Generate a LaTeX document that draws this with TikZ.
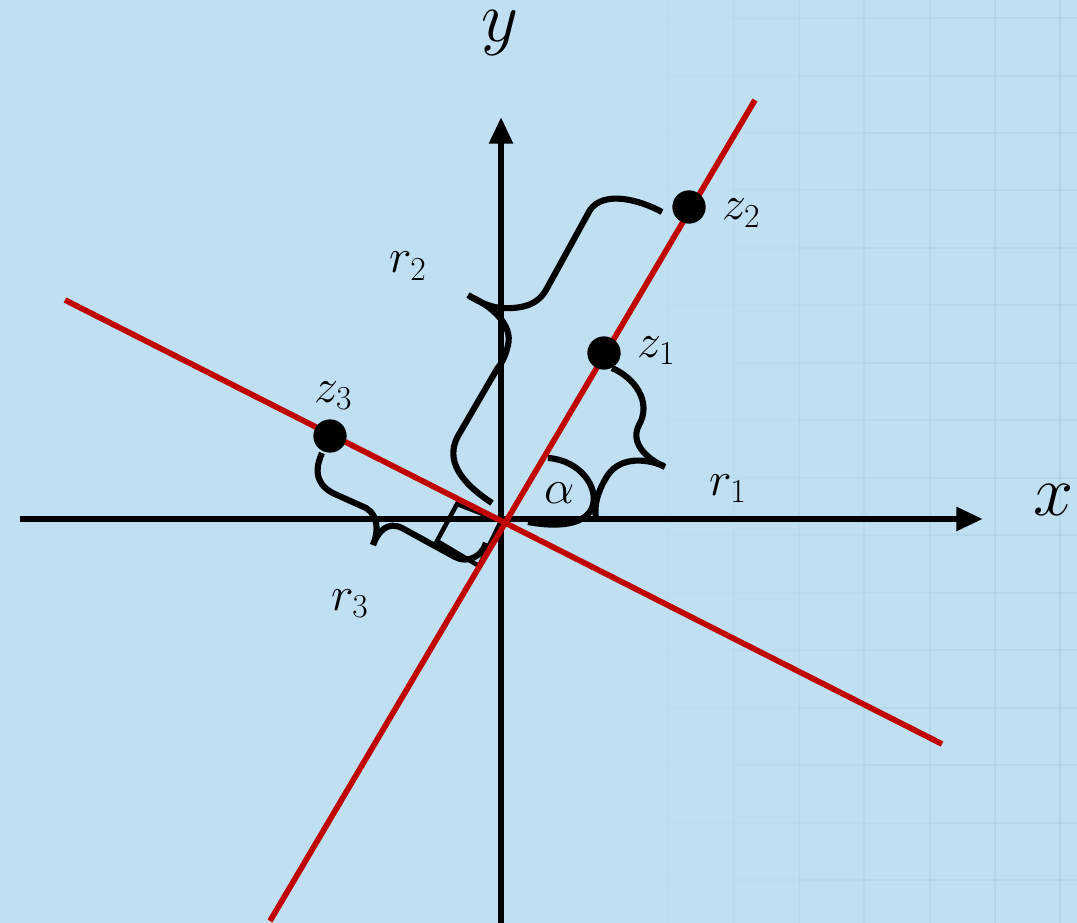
\RequirePackage{fix-cm}
\documentclass[tikz,border=0pt]{standalone}
\usetikzlibrary{arrows.meta}
\definecolor{bg}{RGB}{192,224,242}
\definecolor{gridc}{RGB}{165,203,228}
\definecolor{redl}{RGB}{192,0,0}
\tikzset{
  axis/.style={line width=4.8pt, black},
  redline/.style={line width=4.3pt, redl},
  bracepath/.style={line width=4.6pt, black, line join=round},
  ptdot/.style={circle, fill=black, inner sep=0pt, minimum size=25pt},
  ptlabel/.style={inner sep=0pt, anchor=base west, font=\fontsize{36}{40}\selectfont},
  axlabel/.style={inner sep=0pt, anchor=base west, font=\fontsize{54}{60}\selectfont},
  gridline/.style={gridc, line width=1.4pt}
}
\begin{document}
\begin{tikzpicture}[x=0.75pt,y=-0.75pt]
\useasboundingbox (0,0) rectangle (1077,923);
\fill[bg] (0,0) rectangle (1077,923);
% faint grid on the right
\foreach \gx/\op in {604/0.06,669/0.1,734/0.16,799/0.25,864/0.33,930/0.4,995/0.45,1060/0.5}{
  \draw[gridline, opacity=\op] (\gx,0) -- (\gx,923);
}
\foreach \gy in {18,76,133,190,248,305,363,420,478,535,593,650,708,765,823,880}{
  \foreach \xa/\xb/\op in {604/669/0.05,669/734/0.08,734/799/0.14,799/864/0.22,864/930/0.3,930/995/0.38,995/1077/0.45}{
    \draw[gridline, opacity=\op] (\xa,\gy) -- (\xb,\gy);
  }
}
% axes
\coordinate (xs) at (20,519);
\coordinate (xe) at (983,519);
\coordinate (ys) at (501,923);
\coordinate (ye) at (501,117);
\coordinate (O) at (501,520);
\draw[axis, -{Triangle[length=20pt,width=17pt]}] (xs) -- (xe);
\draw[axis, -{Triangle[length=20pt,width=17pt]}] (ys) -- (ye);
% brace r1
\draw[bracepath] (612,368) .. controls (635,378) and (652,402) .. (639,425)
  .. controls (630,442) and (645,458) .. (665,467);
\draw[bracepath] (664,466) .. controls (642,457) and (617,458) .. (606,478)
  .. controls (597,493) and (594,506) .. (596,519);
% alpha arc
\draw[bracepath] (548,458) .. controls (580,460) and (600,488) .. (592,508)
  .. controls (584,526) and (555,527) .. (528,522);
% brace r2
\draw[bracepath] (662,212) .. controls (640,200) and (604,190) .. (590,210)
  -- (546,290) .. controls (537,306) and (520,309) .. (500,308)
  .. controls (486,306) and (476,300) .. (468,295);
\draw[bracepath] (469,296) .. controls (492,306) and (513,325) .. (508,345)
  .. controls (505,358) and (501,364) .. (497,369) -- (458,436)
  .. controls (445,460) and (460,482) .. (492,503);
% brace r3
\draw[bracepath] (322,453) .. controls (312,475) and (320,488) .. (337,495)
  -- (366,508) .. controls (378,515) and (379,531) .. (373,545);
\draw[bracepath] (373,545) .. controls (378,531) and (388,521) .. (402,528)
  -- (455,557) .. controls (468,564) and (482,556) .. (486,543);
% right angle marker
\draw[line width=3.4pt, line join=miter] (501,521) -- (457,504) -- (437,541) -- (479,566) -- cycle;
% red lines
\coordinate (a1) at (270,921);
\coordinate (a2) at (755,100);
\coordinate (b1) at (65,300);
\coordinate (b2) at (942,744);
\draw[redline] (a1) -- (a2);
\draw[redline] (b1) -- (b2);
% points
\node[ptdot] (z1) at (604,353) {};
\node[ptdot] (z2) at (689,207) {};
\node[ptdot] (z3) at (330,436) {};
% labels
\node[ptlabel] (lz1) at (637,357) {$z_1$};
\node[ptlabel] (lz2) at (722,220) {$z_2$};
\node[ptlabel] (lz3) at (314,402) {$z_3$};
\node[ptlabel] (lr1) at (709,495) {$r_1$};
\node[ptlabel] (lr2) at (389,273) {$r_2$};
\node[ptlabel] (lr3) at (331,610) {$r_3$};
\node[ptlabel] (lal) at (544,503) {$\alpha$};
\node[axlabel] (lx) at (1033,515) {$x$};
\node[axlabel] (ly) at (481,42) {$y$};
\end{tikzpicture}
\end{document}
